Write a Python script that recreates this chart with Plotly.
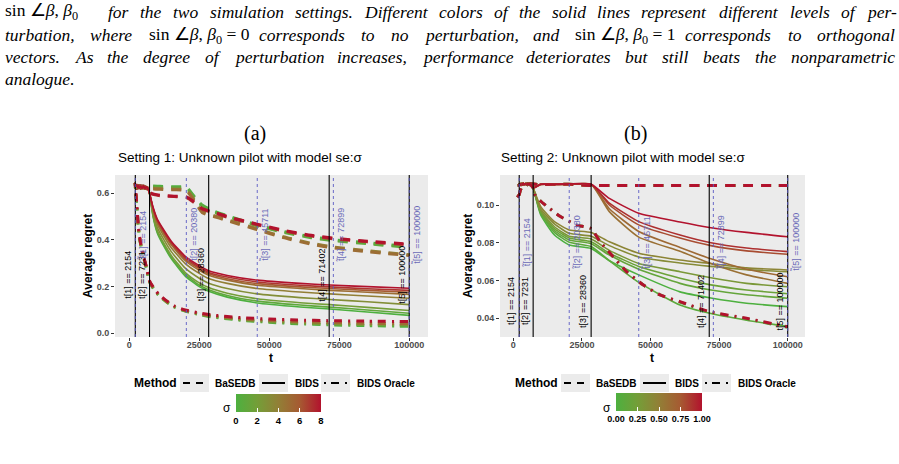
import plotly.graph_objects as go
from plotly.colors import sample_colorscale

W, H = 899, 464

# ---------------- data ----------------
t_black = [2154, 7231, 28360, 71402, 100000]
t_blue = [2154, 20380, 45711, 72899, 100000]

# Panel (a): sigma 0..8
sigma_max_a = 8
pilot_a_t = [1800, 2154, 2600, 3100, 3600, 4100, 4600, 5100, 5600, 6100, 6600, 7231]
pilot_a_1 = [0.645, 0.632, 0.618, 0.636, 0.622, 0.631, 0.621, 0.633, 0.619, 0.629, 0.620, 0.600]
pilot_a_2 = [0.640, 0.625, 0.630, 0.620, 0.635, 0.618, 0.632, 0.622, 0.630, 0.617, 0.627, 0.600]

bids_a_sigma = [0, 1, 2, 3, 4, 5, 6, 7, 8]
bids_a_t = [7231, 8500, 10000, 12500, 15000, 20000, 25000, 28360, 35000, 45711, 61000, 71600, 85000, 100000]
bids_a = [
    [0.60, 0.500, 0.430, 0.370, 0.320, 0.245, 0.200, 0.180, 0.155, 0.130, 0.113, 0.104, 0.091, 0.077],
    [0.60, 0.503, 0.435, 0.376, 0.326, 0.252, 0.207, 0.187, 0.162, 0.138, 0.121, 0.112, 0.100, 0.086],
    [0.60, 0.507, 0.441, 0.383, 0.334, 0.260, 0.216, 0.196, 0.172, 0.148, 0.131, 0.123, 0.111, 0.098],
    [0.60, 0.516, 0.454, 0.398, 0.350, 0.279, 0.236, 0.215, 0.192, 0.169, 0.153, 0.145, 0.135, 0.123],
    [0.60, 0.525, 0.468, 0.414, 0.367, 0.299, 0.257, 0.235, 0.214, 0.192, 0.177, 0.169, 0.160, 0.150],
    [0.60, 0.531, 0.477, 0.425, 0.379, 0.311, 0.270, 0.249, 0.228, 0.206, 0.192, 0.184, 0.176, 0.167],
    [0.60, 0.534, 0.481, 0.430, 0.384, 0.317, 0.277, 0.255, 0.234, 0.213, 0.199, 0.192, 0.184, 0.176],
    [0.60, 0.537, 0.485, 0.434, 0.389, 0.323, 0.283, 0.261, 0.241, 0.220, 0.206, 0.199, 0.191, 0.184],
    [0.60, 0.540, 0.490, 0.440, 0.395, 0.330, 0.290, 0.268, 0.248, 0.228, 0.214, 0.207, 0.200, 0.193],
]

basedb_a_sigma = [0, 1, 4, 5, 7, 8]
basedb_a_t = [2154, 4000, 6000, 7800, 11000, 16000, 20380, 23000, 26000, 30000, 36000, 45711, 55000, 65000, 72899, 85000, 100000]
basedb_a = [
    [0.630, 0.632, 0.628, 0.632, 0.630, 0.628, 0.626, 0.590, 0.550, 0.525, 0.500, 0.465, 0.437, 0.414, 0.401, 0.388, 0.372],
    [0.627, 0.629, 0.625, 0.628, 0.626, 0.624, 0.622, 0.586, 0.546, 0.521, 0.496, 0.461, 0.433, 0.410, 0.397, 0.384, 0.368],
    [0.628, 0.626, 0.624, 0.622, 0.620, 0.618, 0.615, 0.575, 0.522, 0.505, 0.483, 0.448, 0.414, 0.386, 0.370, 0.354, 0.337],
    [0.625, 0.623, 0.621, 0.619, 0.617, 0.615, 0.612, 0.571, 0.518, 0.501, 0.479, 0.444, 0.410, 0.382, 0.366, 0.350, 0.333],
    [0.632, 0.630, 0.626, 0.598, 0.590, 0.586, 0.582, 0.562, 0.532, 0.517, 0.494, 0.465, 0.439, 0.417, 0.405, 0.392, 0.379],
    [0.636, 0.632, 0.628, 0.600, 0.592, 0.588, 0.585, 0.565, 0.535, 0.520, 0.497, 0.468, 0.442, 0.420, 0.408, 0.395, 0.382],
]

oracle_a_sigma = [0, 2, 5, 8]
oracle_a_t = [2154, 2700, 3300, 4000, 5000, 6000, 7231, 9000, 10500, 13000, 16000, 20000, 26000, 30000, 40000, 50000, 60000, 72000, 85000, 100000]
oracle_a = [
    [0.628, 0.545, 0.445, 0.385, 0.330, 0.285, 0.220, 0.185, 0.163, 0.137, 0.113, 0.095, 0.078, 0.069, 0.056, 0.047, 0.041, 0.036, 0.033, 0.030],
    [0.630, 0.546, 0.446, 0.386, 0.331, 0.286, 0.221, 0.186, 0.164, 0.138, 0.114, 0.096, 0.079, 0.071, 0.058, 0.050, 0.044, 0.040, 0.037, 0.035],
    [0.632, 0.548, 0.448, 0.388, 0.333, 0.288, 0.223, 0.188, 0.166, 0.140, 0.116, 0.098, 0.082, 0.074, 0.062, 0.055, 0.050, 0.046, 0.043, 0.041],
    [0.635, 0.550, 0.450, 0.390, 0.335, 0.290, 0.225, 0.190, 0.168, 0.142, 0.118, 0.100, 0.085, 0.078, 0.067, 0.061, 0.057, 0.054, 0.052, 0.050],
]

# Panel (b): sigma 0..1
sigma_max_b = 1.0
pilot_b_t = [1700, 2154, 2600, 3100, 3600, 4100, 4600, 5100, 5600, 6100, 6600, 7231]
pilot_b_1 = [0.1105, 0.1112, 0.1108, 0.1115, 0.1106, 0.1113, 0.1109, 0.1116, 0.1107, 0.1112, 0.1105, 0.1090]
pilot_b_2 = [0.1098, 0.1106, 0.1114, 0.1104, 0.1117, 0.1108, 0.1115, 0.1103, 0.1114, 0.1104, 0.1111, 0.1090]

bids_b_sigma = [0, 0.1, 0.15, 0.2, 0.3, 0.4, 0.45, 0.6, 0.65, 0.8, 0.9, 1.0]
bids_b_t = [7231, 10000, 15000, 20380, 28360, 35000, 45711, 60750, 72000, 85000, 100000]
bids_b = [
    [0.1090, 0.0947, 0.0841, 0.0788, 0.0770, 0.0705, 0.0630, 0.0540, 0.0508, 0.0480, 0.0462],
    [0.1090, 0.0955, 0.0855, 0.0803, 0.0780, 0.0705, 0.0590, 0.0470, 0.0425, 0.0390, 0.0356],
    [0.1090, 0.0960, 0.0865, 0.0815, 0.0795, 0.0735, 0.0660, 0.0585, 0.0550, 0.0525, 0.0506],
    [0.1090, 0.0965, 0.0875, 0.0825, 0.0805, 0.0745, 0.0675, 0.0612, 0.0577, 0.0550, 0.0530],
    [0.1090, 0.0970, 0.0885, 0.0835, 0.0820, 0.0760, 0.0690, 0.0647, 0.0615, 0.0585, 0.0567],
    [0.1090, 0.0980, 0.0900, 0.0850, 0.0835, 0.0785, 0.0725, 0.0693, 0.0675, 0.0658, 0.0647],
    [0.1090, 0.0991, 0.0912, 0.0868, 0.0855, 0.0805, 0.0745, 0.0709, 0.0690, 0.0667, 0.0656],
    [0.1110, 0.1108, 0.1111, 0.1109, 0.1110, 0.0965, 0.0830, 0.0755, 0.0690, 0.0630, 0.0585],
    [0.1112, 0.1110, 0.1108, 0.1111, 0.1110, 0.0980, 0.0860, 0.0775, 0.0715, 0.0660, 0.0620],
    [0.1109, 0.1112, 0.1110, 0.1108, 0.1110, 0.1000, 0.0895, 0.0825, 0.0785, 0.0757, 0.0739],
    [0.1111, 0.1109, 0.1112, 0.1110, 0.1110, 0.1010, 0.0912, 0.0841, 0.0800, 0.0772, 0.0753],
    [0.1113, 0.1110, 0.1109, 0.1112, 0.1110, 0.1035, 0.0956, 0.0910, 0.0880, 0.0855, 0.0832],
]

basedb_b_sigma = [0, 0.5, 1.0]
basedb_b_t = [1500, 2154, 2600, 3200, 4000, 6000, 10000, 20000, 28360, 40000, 55000, 70000, 85000, 100000]
basedb_b = [
    [0.1040, 0.1055, 0.1080, 0.1098, 0.1108, 0.1112, 0.1108, 0.1110, 0.1104, 0.1103, 0.1104, 0.1103, 0.1104, 0.1103],
    [0.1040, 0.1055, 0.1080, 0.1098, 0.1108, 0.1112, 0.1108, 0.1110, 0.1104, 0.1103, 0.1104, 0.1103, 0.1104, 0.1103],
    [0.1040, 0.1055, 0.1080, 0.1098, 0.1108, 0.1112, 0.1108, 0.1110, 0.1104, 0.1103, 0.1104, 0.1103, 0.1104, 0.1103],
]

oracle_b_sigma = [0, 1.0]
oracle_b_t = [2154, 3000, 4500, 6000, 7231, 8000, 10000, 13400, 17000, 23100, 28360, 31600, 36400, 41300, 47400, 53500, 60750, 71600, 85000, 100000]
oracle_b = [
    [0.1105, 0.1110, 0.1112, 0.1110, 0.1090, 0.1050, 0.1020, 0.0980, 0.0940, 0.0894, 0.0875, 0.0806, 0.0726, 0.0647, 0.0576, 0.0524, 0.0486, 0.0432, 0.0397, 0.0352],
    [0.1105, 0.1110, 0.1112, 0.1110, 0.1090, 0.1050, 0.1020, 0.0980, 0.0940, 0.0894, 0.0875, 0.0806, 0.0726, 0.0647, 0.0576, 0.0524, 0.0488, 0.0435, 0.0400, 0.0355],
]

x_ticks = [0, 25000, 50000, 75000, 100000]
y_ticks_a = [0.0, 0.2, 0.4, 0.6]
y_ticks_b = [0.04, 0.06, 0.08, 0.10]
cbar_ticks_a = [0, 2, 4, 6, 8]
cbar_ticks_b = [0, 0.25, 0.5, 0.75, 1.0]

# ---------------- styling ----------------
SANS = "Liberation Sans"
SERIF = "Liberation Serif"
CS = [[0.0, "rgb(77,176,63)"], [0.25, "rgb(116,158,56)"], [0.5, "rgb(146,127,54)"],
      [0.75, "rgb(166,90,50)"], [1.0, "rgb(178,18,45)"]]
BLUE = "#5a5ac4"
BLUE_TXT = "#6a6ab8"
DASH_B = "10px,8px"
DOTDASH = "2px,6px,8px,6px"


def xp(p):
    return p / W


def yp(p):
    return 1 - p / H


def col(s, smax):
    return sample_colorscale(CS, [s / smax])[0]


fig = go.Figure()


def add_line(x, y, color, width, dash, xa, ya):
    fig.add_trace(go.Scatter(x=x, y=y, mode="lines", xaxis=xa, yaxis=ya,
                             line=dict(color=color, width=width, dash=dash, shape="spline", smoothing=0.5),
                             showlegend=False, hoverinfo="skip"))


# Panel (a)
for s, vals in zip(basedb_a_sigma, basedb_a):
    add_line(basedb_a_t, vals, col(s, sigma_max_a), 3, DASH_B, "x", "y")
for i, (s, vals) in enumerate(zip(bids_a_sigma, bids_a)):
    pil = pilot_a_1 if i % 2 == 0 else pilot_a_2
    add_line(pilot_a_t + bids_a_t[1:], pil + vals[1:], col(s, sigma_max_a), 1.6, "solid", "x", "y")
for s, vals in zip(oracle_a_sigma, oracle_a):
    add_line(oracle_a_t, vals, col(s, sigma_max_a), 3, DOTDASH, "x", "y")

# Panel (b)
for s, vals in zip(basedb_b_sigma, basedb_b):
    add_line(basedb_b_t, vals, col(s, sigma_max_b), 3, DASH_B, "x2", "y2")
for i, (s, vals) in enumerate(zip(bids_b_sigma, bids_b)):
    pil = pilot_b_1 if i % 2 == 0 else pilot_b_2
    add_line(pilot_b_t + bids_b_t[1:], pil + vals[1:], col(s, sigma_max_b), 1.6, "solid", "x2", "y2")
for s, vals in zip(oracle_b_sigma, oracle_b):
    add_line(oracle_b_t, vals, col(s, sigma_max_b), 3, DOTDASH, "x2", "y2")

# colorbar carriers
fig.add_trace(go.Scatter(x=[None], y=[None], mode="markers", xaxis="x", yaxis="y",
                         marker=dict(color=[0], coloraxis="coloraxis"), showlegend=False, hoverinfo="skip"))
fig.add_trace(go.Scatter(x=[None], y=[None], mode="markers", xaxis="x2", yaxis="y2",
                         marker=dict(color=[0], coloraxis="coloraxis2"), showlegend=False, hoverinfo="skip"))

tickfont = dict(family=SANS, size=9, color="#4d4d4d", weight="bold")
common_x = dict(tickvals=x_ticks, tickformat="d", ticks="outside", ticklen=3, tickcolor="#333333", tickwidth=1,
                ticklabelstandoff=-4, tickfont=tickfont, showgrid=False, zeroline=False, showline=False)
common_y = dict(ticks="outside", ticklen=3, tickcolor="#333333", tickwidth=1,
                tickfont=tickfont, showgrid=False, zeroline=False, showline=False)

PT, PB = 175, 337
fig.update_layout(
    width=W, height=H, margin=dict(l=0, r=0, t=0, b=0),
    paper_bgcolor="white", plot_bgcolor="#ebebeb",
    xaxis=dict(domain=[xp(115), xp(428)], range=[-5100, 106700], anchor="y", **common_x),
    yaxis=dict(domain=[yp(PB), yp(PT)], range=[-0.0159, 0.6786], anchor="x",
               tickvals=y_ticks_a, tickformat=".1f", **common_y),
    xaxis2=dict(domain=[xp(500), xp(805)], range=[-4850, 106300], anchor="y2", **common_x),
    yaxis2=dict(domain=[yp(PB), yp(PT)], range=[0.0301, 0.1159], anchor="x2",
                tickvals=y_ticks_b, tickformat=".2f", **common_y),
    coloraxis=dict(colorscale=CS, cmin=0, cmax=sigma_max_a,
                   colorbar=dict(orientation="h", x=xp(236), xanchor="left", y=yp(394), yanchor="top",
                                 len=85, lenmode="pixels", thickness=18, thicknessmode="pixels",
                                 xpad=0, ypad=0, outlinewidth=0, tickvals=cbar_ticks_a,
                                 ticks="inside", ticklen=4, tickcolor="white", tickangle=0,
                                 tickfont=dict(family=SANS, size=9.5, color="black", weight="bold"))),
    coloraxis2=dict(colorscale=CS, cmin=0, cmax=sigma_max_b,
                    colorbar=dict(orientation="h", x=xp(616), xanchor="left", y=yp(393), yanchor="top",
                                  len=86, lenmode="pixels", thickness=18, thicknessmode="pixels",
                                  xpad=0, ypad=0, outlinewidth=0, tickvals=cbar_ticks_b, tickformat=".2f",
                                  ticks="inside", ticklen=4, tickcolor="white", tickangle=0,
                                  tickfont=dict(family=SANS, size=9, color="black", weight="bold"))),
)

shapes = []
ann = []

# vertical lines + labels
panels = [("x", "y", 0.25, 0.42), ("x2", "y2", 0.049, 0.080)]
for xa, ya, yb, yc in panels:
    for i, t in enumerate(t_black):
        shapes.append(dict(type="line", xref=xa, yref=ya + " domain", x0=t, x1=t, y0=0, y1=1,
                           line=dict(color="black", width=1.1)))
        ann.append(dict(x=t, y=yb, xref=xa, yref=ya, text=f"t[{i+1}] == {t}", textangle=-90,
                        xanchor="right", yanchor="middle", xshift=-0.5, showarrow=False,
                        font=dict(family=SANS, size=9, color="black")))
    for i, t in enumerate(t_blue):
        shapes.append(dict(type="line", xref=xa, yref=ya + " domain", x0=t, x1=t, y0=0, y1=1,
                           line=dict(color=BLUE, width=0.9, dash="3px,3px")))
        ann.append(dict(x=t, y=yc, xref=xa, yref=ya, text=f"t\u0303[{i+1}] == {t}", textangle=-90,
                        xanchor="left", yanchor="middle", xshift=0.5, showarrow=False,
                        font=dict(family=SANS, size=9, color=BLUE_TXT)))


def pann(x, y, text, size, family=SANS, xanchor="left", weight="normal", color="black", angle=0):
    ann.append(dict(x=xp(x), y=yp(y), xref="paper", yref="paper", text=text, showarrow=False,
                    xanchor=xanchor, yanchor="middle", textangle=angle,
                    font=dict(family=family, size=size, color=color, weight=weight)))


# panel titles
pann(255, 133, "(a)", 20, SERIF, "center")
pann(635, 133, "(b)", 20, SERIF, "center")
pann(116, 158, "Setting 1: Unknown pilot with model se:σ", 13.5)
pann(499, 158, "Setting 2: Unknown pilot with model se:σ", 13.5)

# axis titles
pann(88, 256, "Average regret", 12, weight="bold", xanchor="center", angle=-90)
pann(468, 256, "Average regret", 12, weight="bold", xanchor="center", angle=-90)
pann(271, 358, "t", 12, weight="bold", xanchor="center")
pann(652, 358, "t", 12, weight="bold", xanchor="center")

# legends
legend_layouts = [
    dict(method=132, boxes=[180, 259, 321], texts=[213, 293, 355], sig=227),
    dict(method=513, boxes=[561, 640, 702], texts=[594, 673, 736], sig=607),
]
labels = ["BaSEDB", "BIDS", "BIDS Oracle"]
dashes = ["7px,6px", "solid", "2px,5px,8px,6px"]
for L in legend_layouts:
    pann(L["method"], 383, "Method", 12, weight="bold")
    for bx, tx, lab, d in zip(L["boxes"], L["texts"], labels, dashes):
        shapes.append(dict(type="rect", xref="paper", yref="paper", x0=xp(bx), x1=xp(bx + 29),
                           y0=yp(392), y1=yp(374), fillcolor="#ebebeb", line=dict(width=0), layer="below"))
        shapes.append(dict(type="line", xref="paper", yref="paper", x0=xp(bx + 3), x1=xp(bx + 26),
                           y0=yp(383), y1=yp(383), line=dict(color="black", width=2, dash=d)))
        pann(tx, 383, lab, 10, weight="bold")
    pann(L["sig"], 408, "σ", 12, xanchor="center")

# ---------------- caption, justified word by word ----------------
AFM = {" ": 250, "a": 500, "b": 500, "c": 444, "d": 500, "e": 444, "f": 278, "g": 500, "h": 500,
       "i": 278, "j": 278, "k": 444, "l": 278, "m": 722, "n": 500, "o": 500, "p": 500, "q": 500,
       "r": 389, "s": 389, "t": 278, "u": 500, "v": 444, "w": 667, "x": 444, "y": 444, "z": 389,
       "A": 611, "D": 722, ",": 250, ".": 250, "-": 333}
CAP_SIZE = 17.5
MATH0 = "sin ∠<i>β</i>, <i>β</i><sub>0</sub>"


def word_w(word):
    return sum(AFM.get(c, 500) for c in word) * CAP_SIZE / 1000


def words(s):
    return [("<i>%s</i>" % w, word_w(w)) for w in s.split()]


cap_lines = [
    (12, True, [(MATH0, 92)] + words("for the two simulation settings. Different colors of the solid lines "
                                     "represent different levels of per-")),
    (35, True, words("turbation, where") + [(MATH0 + " = 0", 94)] +
     words("corresponds to no perturbation, and") + [(MATH0 + " = 1", 94)] +
     words("corresponds to orthogonal")),
    (57, True, words("vectors. As the degree of perturbation increases, performance deteriorates "
                     "but still beats the nonparametric")),
    (79, False, words("analogue.")),
]
X0, X1 = 3, 893
for y, justify, toks in cap_lines:
    total = sum(w for _, w in toks)
    gap = (X1 - X0 - total) / (len(toks) - 1) if justify and len(toks) > 1 else CAP_SIZE * 0.25
    x = X0
    for txt, w in toks:
        pann(x, y, txt, CAP_SIZE, SERIF)
        x += w + gap

fig.update_layout(shapes=shapes, annotations=ann)
fig.write_html("out.html")
